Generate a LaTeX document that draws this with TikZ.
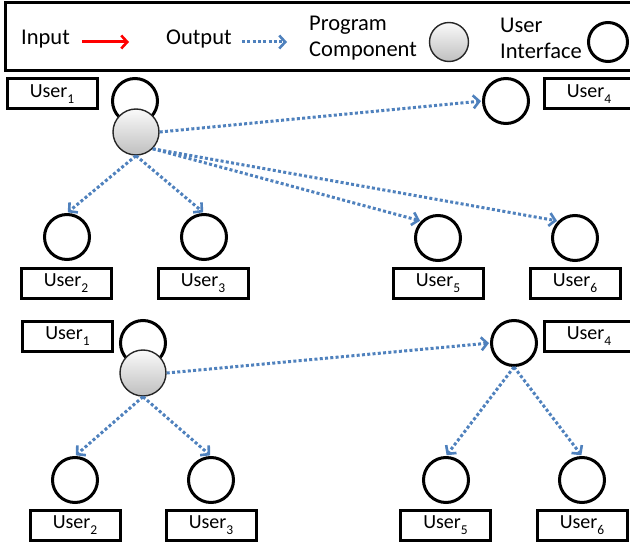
\documentclass[tikz,border=0pt]{standalone}
\usepackage{fontspec}
\setmainfont{Carlito}
\usetikzlibrary{arrows.meta}
\definecolor{outblue}{RGB}{79,129,189}
\newcommand\usr[1]{User\raisebox{-0.3em}{\fontsize{13.5}{13.5}\selectfont #1}}

\begin{document}
\begin{tikzpicture}[x=1pt,y=-1pt,
  ui/.style={circle,draw,line width=3pt,minimum size=45pt,inner sep=0pt},
  pc/.style={circle,draw=black!85,line width=1.4pt,minimum size=46pt,inner sep=0pt,
             top color=gray!4,bottom color=gray!50},
  namebox/.style={rectangle,draw,line width=3pt,minimum width=90pt,minimum height=30pt,
                  inner sep=0pt,font=\fontsize{20}{22}\selectfont},
  legtext/.style={anchor=west,inner sep=0pt,align=left,
                  font=\fontsize{22.5}{26}\selectfont},
  outarrow/.style={draw=outblue,line width=3pt,dash pattern=on 3pt off 2.3pt,
                   -{Straight Barb[length=6pt,width=13pt,line width=2.6pt]},shorten >=1pt},
  inarrow/.style={draw=red,line width=3pt,
                  -{Straight Barb[length=6pt,width=13pt,line width=2.6pt]}}
]
\useasboundingbox (0,0) rectangle (630,543);
\begin{scope}
\clip (0,0) rectangle (630,543);

% legend
\draw[line width=3pt] (5,3) rectangle (640,71);
\node[legtext] (lin) at (21,39) {Input};
\coordinate (rs) at (82,42);
\coordinate (re) at (129,42);
\draw[inarrow] (rs) -- (re);
\node[legtext] (lout) at (166,39) {Output};
\coordinate (bs) at (242,42);
\coordinate (be) at (288,42);
\draw[outarrow] (bs) -- (be);
\node[legtext] (lpc) at (309,38) {Program\\Component};
\node[pc,minimum size=39pt] (lpcc) at (449,42) {};
\node[legtext] (lui) at (500,38) {User\\Interface};
\node[ui,minimum size=39pt] (luic) at (608,42) {};

% upper diagram
\node[namebox] (tb1) at (52,94) {\usr{1}};
\node[ui] (tloop) at (135,101) {};
\node[pc] (tpc) at (136,132) {};
\node[ui] (tu4) at (506,101) {};
\node[namebox] (tb4) at (589,94) {\usr{4}};
\node[ui] (tu2) at (67,237) {};
\node[ui] (tu3) at (204,237) {};
\node[ui] (tu5) at (438,238) {};
\node[ui] (tu6) at (575,238) {};
\node[namebox] (tb2) at (66,283) {\usr{2}};
\node[namebox] (tb3) at (203,283) {\usr{3}};
\node[namebox] (tb5) at (438,283) {\usr{5}};
\node[namebox] (tb6) at (575,283) {\usr{6}};

\draw[outarrow] (tpc.east) -- (tu4.west);
\draw[outarrow] (tpc.south) -- (tu2.north);
\draw[outarrow] (tpc.south) -- (tu3.north);
\draw[outarrow] (tpc.south east) -- (tu5.north west);
\draw[outarrow] (tpc.south east) -- (tu6.north west);

% lower diagram
\node[namebox] (bb1) at (67.5,336) {\usr{1}};
\node[ui] (bloop) at (143,343) {};
\node[pc] (bpc) at (143,373) {};
\node[ui] (bu4) at (514,343) {};
\node[namebox] (bb4) at (589,336) {\usr{4}};
\node[ui] (bu2) at (75,480) {};
\node[ui] (bu3) at (211,480) {};
\node[ui] (bu5) at (446,480) {};
\node[ui] (bu6) at (582,480) {};
\node[namebox] (bb2) at (75,525) {\usr{2}};
\node[namebox] (bb3) at (211,525) {\usr{3}};
\node[namebox] (bb5) at (445.5,525) {\usr{5}};
\node[namebox] (bb6) at (582,525) {\usr{6}};

\draw[outarrow] (bpc.east) -- (bu4.west);
\draw[outarrow] (bpc.south) -- (bu2.north);
\draw[outarrow] (bpc.south) -- (bu3.north);
\draw[outarrow] (bu4.south) -- (bu5.north);
\draw[outarrow] (bu4.south) -- (bu6.north);
\end{scope}
\end{tikzpicture}
\end{document}
